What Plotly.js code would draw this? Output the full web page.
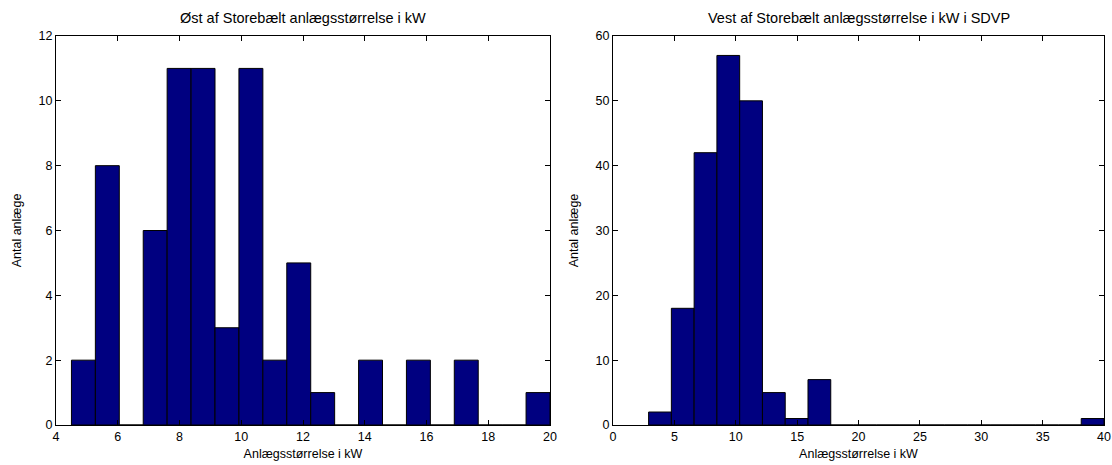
<!DOCTYPE html>
<html><head><meta charset="utf-8">
<script src="https://cdn.plot.ly/plotly-3.0.1.min.js"></script>
<style>html,body{margin:0;padding:0;background:#fff}#plot{width:1112px;height:465px}</style>
</head><body><div id="plot"></div>
<script>
// Øst af Storebælt: histogram, 20 bins from 4.5 to 20 kW
const eastBinStart = 4.5;
const eastBinEnd = 20;
const eastCounts = [2, 8, 0, 6, 11, 11, 3, 11, 2, 5, 1, 0, 2, 0, 2, 0, 2, 0, 0, 1];
// Vest af Storebælt (SDVP): histogram, 20 bins from 2.9 to 40 kW
const westBinStart = 2.9;
const westBinEnd = 40;
const westCounts = [2, 18, 42, 57, 50, 5, 1, 7, 0, 0, 0, 0, 0, 0, 0, 0, 0, 0, 0, 1];

const titles = ["Øst af Storebælt anlægsstørrelse i kW", "Vest af Storebælt anlægsstørrelse i kW i SDVP"];
const xLabel = "Anlægsstørrelse i kW";
const yLabel = "Antal anlæge";

function centers(start, end, counts) {
  const w = (end - start) / counts.length;
  return {w: w, x: counts.map((_, i) => start + w * (i + 0.5))};
}
const e = centers(eastBinStart, eastBinEnd, eastCounts);
const w = centers(westBinStart, westBinEnd, westCounts);

const barStyle = {color: '#000080', line: {color: '#000000', width: 1}};
const traces = [
  {type: 'bar', x: e.x, y: eastCounts, width: e.w, marker: barStyle, xaxis: 'x', yaxis: 'y', hoverinfo: 'x+y'},
  {type: 'bar', x: w.x, y: westCounts, width: w.w, marker: barStyle, xaxis: 'x2', yaxis: 'y2', hoverinfo: 'x+y'}
];

const font = {family: 'Liberation Sans, Arial, sans-serif', size: 12, color: '#000'};
function ax(extra) {
  return Object.assign({
    showline: true, linecolor: '#000', linewidth: 1, mirror: 'ticks',
    ticks: 'inside', ticklen: 5, tickcolor: '#000', showgrid: false, zeroline: false,
    tickfont: {family: font.family, size: 12.5, color: '#000'}
  }, extra);
}
const yTop = 1 - 36 / 465, yBot = 1 - 425 / 465;
const layout = {
  width: 1112, height: 465,
  margin: {l: 0, r: 0, t: 0, b: 0},
  paper_bgcolor: '#fff', plot_bgcolor: '#fff',
  showlegend: false, bargap: 0, font: font,
  xaxis: ax({domain: [56/1112, 550/1112], range: [4, 20], dtick: 2, anchor: 'y',
    title: {text: xLabel, standoff: 6, font: {size: 12.5}}}),
  yaxis: ax({domain: [yBot, yTop], range: [0, 12], dtick: 2, anchor: 'x',
    title: {text: yLabel, standoff: 14, font: {size: 12.5}}}),
  xaxis2: ax({domain: [613/1112, 1104/1112], range: [0, 40], dtick: 5, anchor: 'y2',
    title: {text: xLabel, standoff: 6, font: {size: 12.5}}}),
  yaxis2: ax({domain: [yBot, yTop], range: [0, 60], dtick: 10, anchor: 'x2',
    title: {text: yLabel, standoff: 14, font: {size: 12.5}}}),
  annotations: [
    {text: titles[0], x: (56+550)/2/1112, y: 1 - 18/465, xref: 'paper', yref: 'paper', xanchor: 'center', yanchor: 'middle', showarrow: false, font: {size: 14.5}},
    {text: titles[1], x: (613+1104)/2/1112, y: 1 - 18/465, xref: 'paper', yref: 'paper', xanchor: 'center', yanchor: 'middle', showarrow: false, font: {size: 14.5}}
  ]
};
Plotly.newPlot('plot', traces, layout, {staticPlot: true, displayModeBar: false});
</script></body></html>
